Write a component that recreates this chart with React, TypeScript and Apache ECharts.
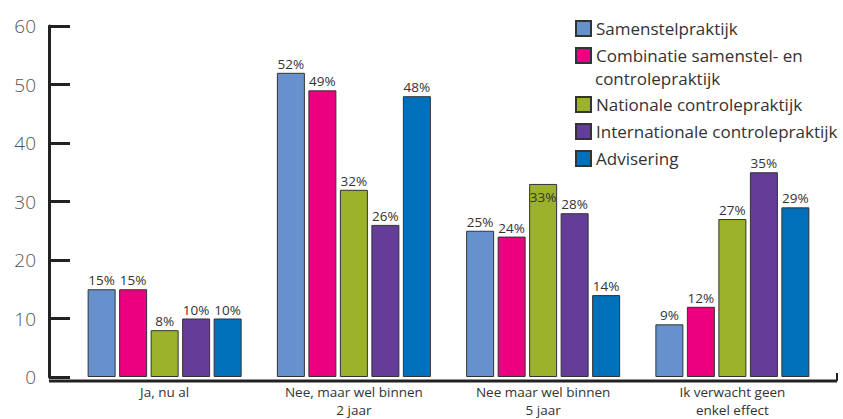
import React, { useEffect, useRef } from "react";
import * as echarts from "echarts";

const categories = ["Ja, nu al", "Nee, maar wel binnen\n2 jaar", "Nee maar wel binnen\n5 jaar", "Ik verwacht geen\nenkel effect"];
const seriesNames = [
  "Samenstelpraktijk",
  "Combinatie samenstel- en controlepraktijk",
  "Nationale controlepraktijk",
  "Internationale controlepraktijk",
  "Advisering",
];
const samenstel = [15, 52, 25, 9];
const combinatie = [15, 49, 24, 12];
const nationale = [8, 32, 33, 27];
const internationale = [10, 26, 28, 35];
const advisering = [10, 48, 14, 29];
const seriesValues = [samenstel, combinatie, nationale, internationale, advisering];
const colors = ["#6791cc", "#ec0080", "#9bb22a", "#643d98", "#0070ba"];
const yTicks = { min: 0, max: 60, interval: 10 };

const FONT = "'Open Sans', Lato, sans-serif";

export default function App() {
  const ref = useRef<HTMLDivElement>(null);
  useEffect(() => {
    if (!ref.current) return;
    const chart = echarts.init(ref.current, null, { renderer: "svg" });
    const gridLeft = 70;
    const gridRight = 16;
    const gridTop = 26;
    const gridBottom = 38;
    const W = 843;
    const H = 419;
    const axisY = H - gridBottom;

    const series = seriesNames.map((name, i) => ({
      name,
      type: "bar",
      barWidth: 28,
      barGap: "12.5%",
      data: seriesValues[i].map((v, j) => {
        // label for the 33% bar sits inside its top in the reference
        if (i === 2 && j === 2) {
          return { value: v, label: { position: "insideTop", distance: 6 } };
        }
        return v;
      }),
      itemStyle: { color: colors[i], borderColor: "#333", borderWidth: 1 },
      label: {
        show: true,
        position: "top",
        distance: 2,
        formatter: "{c}%",
        color: "#333",
        fontSize: 13.5,
        fontFamily: FONT,
        fontWeight: 400,
      },
    }));

    const legendCommon = {
      orient: "vertical",
      left: 575,
      padding: 0,
      icon: "rect",
      itemWidth: 15,
      itemHeight: 15,
      itemGap: 10,
      textStyle: { color: "#333", fontSize: 17, fontFamily: FONT, fontWeight: 400, lineHeight: 15 },
    };

    chart.setOption({
      animation: false,
      color: colors,
      textStyle: { fontFamily: FONT },
      grid: { left: gridLeft, right: gridRight, top: gridTop, bottom: gridBottom },
      legend: [
        {
          ...legendCommon,
          top: 20,
          data: [seriesNames[0], seriesNames[1]],
          formatter: (n: string) => (n === seriesNames[1] ? "Combinatie samenstel- en" : n),
        },
        {
          ...legendCommon,
          top: 96,
          data: [seriesNames[2], seriesNames[3], seriesNames[4]],
        },
      ],
      xAxis: {
        type: "category",
        data: categories,
        axisLine: { show: false },
        axisTick: { show: false },
        axisLabel: {
          color: "#333",
          fontSize: 13.5,
          lineHeight: 18,
          margin: 6,
          fontFamily: FONT,
          fontWeight: 400,
        },
      },
      yAxis: {
        type: "value",
        min: yTicks.min,
        max: yTicks.max,
        interval: yTicks.interval,
        offset: 21,
        splitLine: { show: false },
        axisLine: { show: true, lineStyle: { color: "#222", width: 3 } },
        axisTick: { show: true, inside: true, length: 21, lineStyle: { color: "#222", width: 3 } },
        axisLabel: {
          color: "#555",
          fontSize: 19,
          margin: 13,
          padding: [0, 0, 10, 0],
          fontFamily: FONT,
          fontWeight: 300,
        },
      },
      graphic: [
        {
          type: "line",
          shape: { x1: gridLeft - 21, y1: axisY, x2: W - 6, y2: axisY },
          style: { stroke: "#222", lineWidth: 3 },
          z: 10,
        },
        {
          type: "line",
          shape: { x1: W - 6, y1: axisY, x2: W - 6, y2: axisY - 8 },
          style: { stroke: "#222", lineWidth: 2 },
          z: 10,
        },
        {
          type: "text",
          x: 595,
          y: 78,
          style: {
            text: "controlepraktijk",
            fill: "#333",
            fontSize: 17,
            fontWeight: 400,
            fontFamily: FONT,
            verticalAlign: "middle",
          },
        },
      ],
      series,
    });
    return () => chart.dispose();
  }, []);
  return <div ref={ref} style={{ width: 843, height: 419, position: "absolute", left: 0, top: 0 }} />;
}
